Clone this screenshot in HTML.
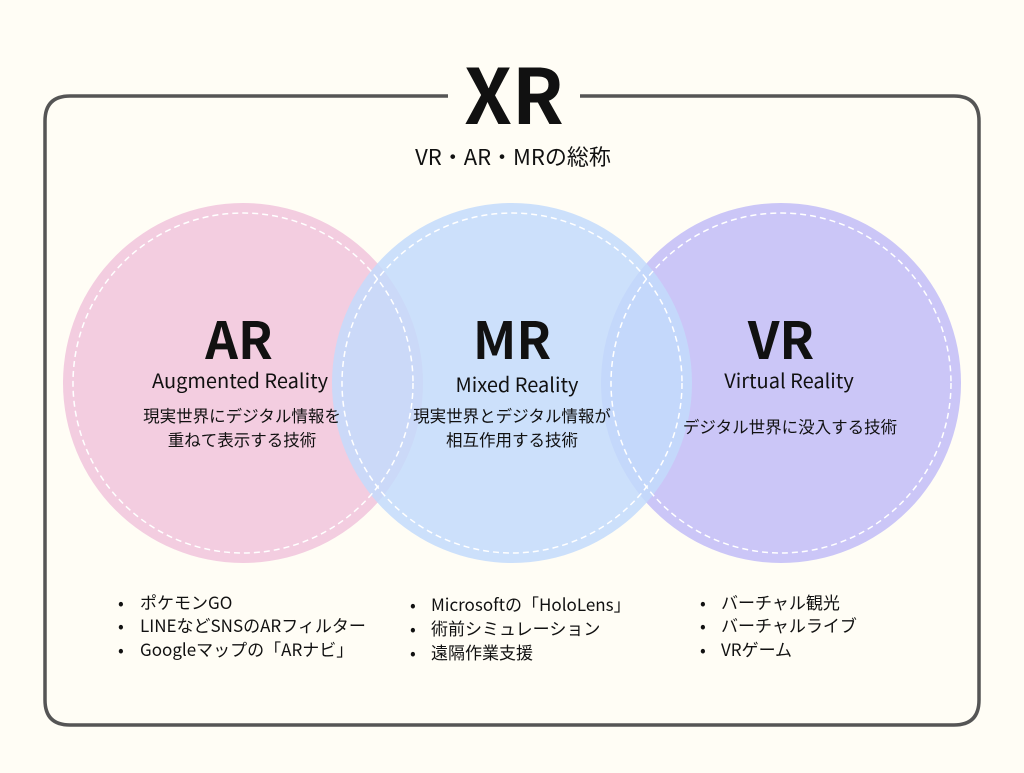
<!DOCTYPE html>
<html><head><meta charset="utf-8"><style>
body{margin:0;background:#fffdf5;}
svg text{font-family:"Noto Sans CJK JP","Liberation Sans",sans-serif;fill:#111;}
</style></head><body>
<svg width="1024" height="768" viewBox="0 0 1024 768" xmlns="http://www.w3.org/2000/svg">
<rect width="1024" height="768" fill="#fffdf5"/>
<path d="M448 96 H70 Q45 96 45 121 V700 Q45 725 70 725 H954 Q979 725 979 700 V121 Q979 96 954 96 H580" fill="none" stroke="#555" stroke-width="3.5"/>
<text x="514" y="124" text-anchor="middle" font-size="76" font-weight="bold">XR</text>
<text x="513" y="165" text-anchor="middle" font-size="22">VR・AR・MRの総称</text>
<circle cx="243" cy="383" r="180" fill="#f3cde0"/>
<circle cx="781" cy="383" r="180" fill="#cbc6f7"/>
<circle cx="512" cy="383" r="180" fill="#c3dbfb" fill-opacity="0.85"/>
<g fill="none" stroke="#fff" stroke-width="1.5" stroke-dasharray="6 4">
<circle cx="243" cy="383" r="170"/><circle cx="512" cy="383" r="170"/><circle cx="781" cy="383" r="170"/>
</g>
<g text-anchor="middle">
<text x="239" y="359" font-size="51" font-weight="bold">AR</text>
<text x="512" y="359" font-size="51" font-weight="bold">MR</text>
<text x="781" y="359" font-size="51" font-weight="bold">VR</text>
<text x="240" y="388" font-size="20">Augmented Reality</text>
<text x="517" y="392" font-size="20">Mixed Reality</text>
<text x="789" y="388" font-size="20">Virtual Reality</text>
<text x="242" y="422" font-size="16.5">現実世界にデジタル情報を</text>
<text x="242" y="446" font-size="16.5">重ねて表示する技術</text>
<text x="512" y="422" font-size="16.5">現実世界とデジタル情報が</text>
<text x="512" y="446" font-size="16.5">相互作用する技術</text>
<text x="790" y="433" font-size="16.5">デジタル世界に没入する技術</text>
</g>
<g font-size="17">
<text x="118" y="609">•</text><text x="140" y="609">ポケモンGO</text>
<text x="118" y="632">•</text><text x="140" y="632">LINEなどSNSのARフィルター</text>
<text x="118" y="656">•</text><text x="140" y="656">Googleマップの「ARナビ」</text>
<text x="410" y="611">•</text><text x="431" y="611">Microsoftの「HoloLens」</text>
<text x="410" y="635">•</text><text x="431" y="635">術前シミュレーション</text>
<text x="410" y="659">•</text><text x="431" y="659">遠隔作業支援</text>
<text x="700" y="609">•</text><text x="721" y="609">バーチャル観光</text>
<text x="700" y="632">•</text><text x="721" y="632">バーチャルライブ</text>
<text x="700" y="656">•</text><text x="721" y="656">VRゲーム</text>
</g>
</svg>
</body></html>
